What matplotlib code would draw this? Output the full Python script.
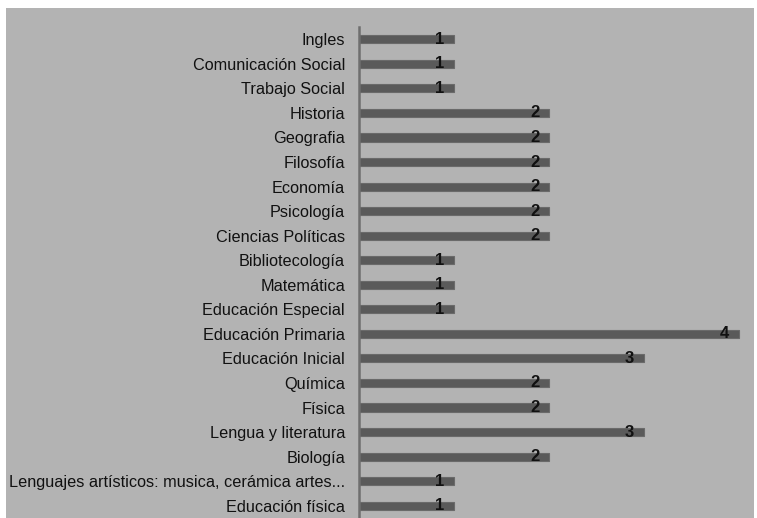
import matplotlib.pyplot as plt
from matplotlib.patches import Rectangle

# Carreras / cantidad de docentes
carreras = [
    'Ingles', 'Comunicación Social', 'Trabajo Social', 'Historia', 'Geografia',
    'Filosofía', 'Economía', 'Psicología', 'Ciencias Políticas', 'Bibliotecología',
    'Matemática', 'Educación Especial', 'Educación Primaria', 'Educación Inicial',
    'Química', 'Física', 'Lengua y literatura', 'Biología',
    'Lenguajes artísticos: musica, cerámica artes...', 'Educación física',
]
cantidad = [1, 1, 1, 2, 2, 2, 2, 2, 2, 1, 1, 1, 4, 3, 2, 2, 3, 2, 1, 1]

plt.rcParams['font.family'] = ['Liberation Sans', 'DejaVu Sans']

fig = plt.figure(figsize=(7.57, 5.18), dpi=100)
fig.patch.set_facecolor('white')
# grey panel with thin white border on top/left/right
fig.add_artist(Rectangle((6 / 757, 0), (754 - 6) / 757, (518 - 8) / 518,
                         transform=fig.transFigure, facecolor='#b3b3b3',
                         edgecolor='none', zorder=0))

ax = fig.add_axes([359 / 757, 0, (750 - 359) / 757, (518 - 27) / 518])
ax.set_facecolor('none')

pos = list(range(len(carreras)))
ax.barh(pos, cantidad, height=0.33, color='#5a5a5a', edgecolor='#6a6a6a', linewidth=0.8)

for p, v in zip(pos, cantidad):
    ax.annotate(str(v), xy=(v, p), xytext=(-7, 0), textcoords='offset points',
                ha='right', va='center', fontsize=12, fontweight='bold', color='#111111')

ax.set_xlim(0, (750 - 359) / 95)
ax.set_ylim(len(carreras) - 0.5, -0.5)
ax.set_yticks(pos)
ax.set_yticklabels(carreras, fontsize=11.7, color='#111111')
ax.tick_params(axis='y', length=0, pad=10)
ax.set_xticks([])
for s in ['top', 'right', 'bottom']:
    ax.spines[s].set_visible(False)
ax.spines['left'].set_color('#6e6e6e')
ax.spines['left'].set_linewidth(1.8)

fig.savefig('out.png', dpi=100)
